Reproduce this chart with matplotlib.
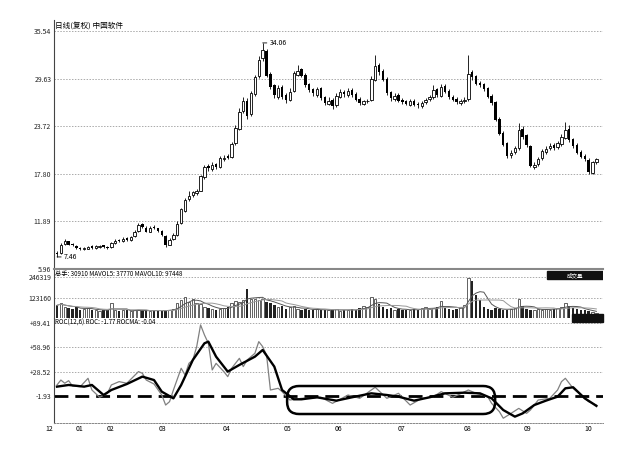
import numpy as np
import pandas as pd
import matplotlib
matplotlib.use('Agg')
import matplotlib.pyplot as plt
from matplotlib.patches import FancyBboxPatch, Rectangle

plt.rcParams['font.family'] = ['Noto Sans CJK SC', 'DejaVu Sans']

# 日线数据(复权) 中国软件
opens = [8.0, 7.9, 9.1, 9.4, 9.1, 8.8, 8.6, 8.4, 8.5, 8.8,
         8.6, 8.7, 8.9, 8.7, 8.7, 9.2, 9.6, 9.4, 9.8, 9.6,
         10.0, 10.7, 11.5, 11.1, 10.6, 11.2, 11.0, 10.7, 10.1, 9.0,
         9.7, 10.2, 11.7, 13.2, 14.6, 15.2, 15.4, 15.7, 17.4, 18.8,
         18.4, 19.0, 18.7, 19.6, 20.0, 19.9, 21.6, 23.4, 25.6, 26.9,
         25.2, 27.7, 30.0, 32.2, 33.0, 30.2, 28.8, 27.4, 28.6, 27.6,
         27.0, 28.1, 30.1, 30.8, 30.1, 28.9, 28.3, 27.6, 28.4, 27.3,
         26.5, 27.0, 26.3, 27.4, 28.0, 27.6, 28.2, 27.7, 27.1, 26.5,
         26.8, 27.0, 29.5, 31.3, 30.6, 29.6, 27.9, 27.1, 27.6, 27.0,
         26.8, 26.4, 26.9, 26.5, 26.2, 26.7, 27.1, 27.3, 28.3, 27.5,
         28.7, 28.1, 27.4, 27.1, 26.6, 26.8, 27.1, 30.4, 29.9, 29.1,
         28.9, 28.4, 27.5, 26.7, 24.6, 22.9, 21.6, 20.1, 20.5, 21.0,
         23.4, 22.6, 21.2, 18.7, 19.0, 19.7, 20.5, 21.0, 21.4, 21.1,
         21.5, 22.3, 23.4, 22.1, 21.4, 20.5, 20.0, 19.5, 17.9, 19.2]
highs = [8.2, 9.2, 9.7, 9.5, 9.2, 8.9, 8.7, 8.7, 8.8, 8.9,
         8.9, 8.9, 9.0, 8.8, 9.3, 9.7, 9.7, 9.9, 9.9, 10.1,
         10.8, 11.7, 11.7, 11.3, 11.3, 11.4, 11.1, 10.8, 10.2, 9.8,
         10.4, 11.9, 13.6, 14.8, 15.6, 15.7, 15.9, 17.7, 18.9, 19.0,
         19.2, 19.1, 20.0, 20.1, 20.3, 21.8, 23.8, 26.0, 27.3, 27.2,
         28.1, 30.1, 32.4, 34.06, 33.3, 30.5, 29.0, 28.8, 28.8, 27.8,
         28.4, 30.6, 31.3, 31.0, 30.3, 29.1, 28.5, 28.6, 28.6, 27.5,
         27.3, 27.2, 27.8, 28.3, 28.2, 28.4, 28.4, 27.9, 27.3, 27.0,
         27.1, 29.9, 32.6, 31.6, 30.8, 29.8, 28.1, 27.8, 27.8, 27.2,
         27.0, 27.1, 27.1, 26.7, 26.8, 27.2, 27.6, 28.8, 28.5, 28.9,
         28.9, 28.3, 27.6, 27.3, 27.1, 27.3, 32.6, 30.7, 30.1, 29.3,
         29.1, 28.6, 27.7, 26.9, 24.8, 23.1, 21.8, 20.8, 21.3, 24.1,
         23.7, 22.8, 21.4, 19.2, 19.9, 20.9, 21.2, 21.6, 21.6, 21.9,
         22.7, 24.2, 23.8, 22.3, 21.6, 20.7, 20.2, 19.7, 19.4, 19.8]
lows = [7.46, 7.8, 8.9, 8.9, 8.8, 8.5, 8.3, 8.3, 8.4, 8.5,
        8.5, 8.6, 8.6, 8.5, 8.6, 9.1, 9.3, 9.3, 9.5, 9.5,
        9.9, 10.6, 11.0, 10.5, 10.5, 10.9, 10.6, 10.0, 8.7, 8.9,
        9.6, 10.1, 11.5, 13.0, 14.4, 14.9, 15.2, 15.6, 17.2, 18.2,
        18.2, 18.4, 18.5, 19.4, 19.6, 19.8, 21.4, 23.2, 25.3, 24.6,
        25.0, 27.5, 29.7, 31.8, 29.8, 28.3, 27.2, 27.1, 27.1, 26.6,
        26.8, 27.9, 29.9, 29.8, 28.6, 27.9, 27.5, 27.4, 27.0, 26.3,
        26.3, 25.9, 26.1, 27.2, 27.4, 27.4, 27.3, 26.8, 26.4, 26.3,
        26.6, 26.8, 29.3, 30.1, 29.3, 27.6, 26.9, 26.9, 26.7, 26.5,
        26.3, 26.2, 26.2, 26.0, 26.0, 26.5, 26.9, 27.1, 27.4, 27.3,
        27.8, 27.1, 26.8, 26.5, 26.4, 26.6, 26.9, 29.5, 28.8, 28.6,
        28.1, 27.2, 26.4, 24.3, 22.6, 21.2, 19.8, 19.8, 20.3, 20.8,
        22.1, 21.1, 18.6, 18.4, 18.8, 19.5, 20.3, 20.8, 20.7, 20.9,
        21.3, 22.1, 21.8, 21.0, 20.2, 19.7, 19.4, 17.8, 17.8, 19.0]
closes = [7.8, 9.0, 9.5, 9.0, 8.9, 8.6, 8.4, 8.6, 8.7, 8.6,
          8.8, 8.8, 8.7, 8.6, 9.2, 9.5, 9.4, 9.7, 9.6, 9.9,
          10.6, 11.4, 11.2, 10.6, 11.1, 11.0, 10.7, 10.2, 9.0, 9.6,
          10.2, 11.6, 13.4, 14.5, 15.0, 15.5, 15.6, 17.5, 18.6, 18.5,
          18.9, 18.6, 19.7, 19.8, 19.8, 21.5, 23.5, 25.5, 26.8, 25.0,
          27.8, 29.8, 32.0, 33.2, 30.0, 28.6, 27.6, 28.4, 27.4, 27.0,
          28.0, 30.3, 30.6, 30.0, 28.8, 28.2, 27.8, 28.3, 27.2, 26.6,
          26.9, 26.2, 27.5, 27.9, 27.7, 28.1, 27.6, 27.0, 26.6, 26.8,
          26.9, 29.6, 31.2, 30.4, 29.5, 27.8, 27.2, 27.5, 26.9, 26.7,
          26.5, 26.9, 26.4, 26.3, 26.6, 27.0, 27.4, 28.2, 27.6, 28.6,
          28.0, 27.3, 27.0, 26.7, 26.9, 27.0, 30.2, 29.8, 29.0, 28.8,
          28.3, 27.4, 26.6, 24.5, 22.8, 21.4, 20.0, 20.4, 21.0, 23.2,
          22.4, 21.4, 18.8, 18.9, 19.6, 20.6, 20.9, 21.3, 21.0, 21.6,
          22.4, 23.2, 22.0, 21.2, 20.4, 19.9, 19.6, 18.0, 19.2, 19.6]
volumes = [80000, 95000, 70000, 65000, 60000, 70000, 55000, 60000, 65000, 55000,
           50000, 45000, 50000, 55000, 95000, 50000, 45000, 50000, 55000, 45000,
           50000, 55000, 45000, 50000, 45000, 50000, 55000, 45000, 50000, 55000,
           60000, 95000, 110000, 130000, 100000, 115000, 95000, 90000, 70000, 65000,
           60000, 55000, 60000, 65000, 70000, 95000, 105000, 100000, 110000, 175000,
           120000, 115000, 110000, 115000, 100000, 95000, 80000, 70000, 75000, 60000,
           70000, 75000, 60000, 55000, 60000, 50000, 55000, 60000, 50000, 55000,
           50000, 55000, 60000, 45000, 55000, 50000, 60000, 55000, 65000, 75000,
           70000, 130000, 115000, 90000, 70000, 60000, 65000, 55000, 60000, 50000,
           55000, 50000, 60000, 55000, 65000, 70000, 60000, 65000, 70000, 105000,
           65000, 60000, 55000, 60000, 70000, 85000, 240000, 225000, 140000, 110000,
           70000, 60000, 55000, 65000, 60000, 50000, 55000, 60000, 65000, 115000,
           75000, 60000, 55000, 50000, 60000, 55000, 60000, 55000, 60000, 65000,
           70000, 95000, 75000, 65000, 60000, 55000, 50000, 45000, 40000, 35000]

# ROC(12,6)
roc_idx = [0, 1, 2, 3, 4, 6, 8, 9, 11, 13, 14, 16, 18, 21, 22, 23, 25, 27, 28, 29,
           30, 32, 33, 34, 35, 36, 37, 38, 39, 40, 41, 43, 44, 45, 47, 48, 49, 51, 52, 53,
           54, 55, 57, 58, 60, 63, 65, 68, 71, 75, 78, 81, 82, 85, 88, 91, 94, 97, 99, 102,
           106, 108, 111, 112, 114, 115, 117, 119, 121, 122, 124, 127, 129, 130, 131, 133, 135, 137, 139]
roc_val = [11.8, 18.0, 14.0, 17.2, 10.5, 9.7, 20.2, 5.5, -3.7, 1.3, 11.8, 16.0, 14.0, 28.6, 26.5, 18.0, 13.0, -0.8, -13.4, -9.2,
           5.5, 32.8, 24.4, 39.0, 43.2, 60.0, 87.3, 74.7, 64.2, 30.7, 39.0, 28.6, 22.3, 32.8, 45.3, 34.9, 43.2, 51.6, 66.3, 60.0,
           49.5, 5.5, 7.6, 3.4, -7.1, -5.0, -5.0, -3.7, -11.3, -0.8, -5.0, 5.5, 8.9, -5.0, 1.3, -13.4, -5.0, -2.9, 3.4, -3.7,
           5.5, 1.3, -2.9, -11.3, -21.7, -30.0, -23.9, -17.6, -23.9, -19.7, -7.1, -5.0, 5.5, 16.0, 20.2, 7.6, -0.8, -9.2, -13.4]
rocma_idx = [0, 3, 7, 9, 12, 14, 18, 22, 25, 27, 30, 32, 35, 38, 39, 41, 44, 47, 51, 53,
             56, 58, 61, 63, 67, 72, 76, 81, 85, 88, 92, 96, 100, 105, 109, 112, 115, 118, 120, 123,
             126, 129, 131, 133, 136, 138, 139]
rocma_val = [9.7, 11.8, 9.7, 11.8, -0.8, 5.5, 13.0, 22.3, 18.0, 3.4, -5.0, 11.8, 43.2, 64.2, 66.3, 47.4, 28.6, 37.0, 47.4, 55.8,
             34.9, 5.5, -6.2, -6.2, -3.7, -7.9, -3.7, 1.3, -0.8, -2.9, -7.9, -3.7, 1.3, 2.1, 1.3, -5.0, -19.7, -28.0, -23.9, -13.4,
             -7.9, -2.9, 7.6, 8.9, -5.0, -11.3, -14.5]

# 月份 (K线序号)
months = ['12', '01', '02', '03', '04', '05', '06', '07', '08', '09', '10']
month_idx = [-2.1, 5.9, 13.7, 27.3, 43.8, 59.3, 72.4, 88.9, 105.9, 121.1, 136.9]

price_ticks = [5.96, 11.89, 17.80, 23.72, 29.63, 35.54]
vol_ticks = [123160, 246319]
roc_ticks = [-1.93, 28.52, 58.96, 89.41]

# 圈出的横盘区间
box_bars = (59.3, 112.9)
box_roc = (-24.7, 10.5)

o = np.array(opens)
h = np.array(highs)
l = np.array(lows)
c = np.array(closes)
v = np.array(volumes)
x = np.arange(len(c))
up = c >= o

fig = plt.figure(figsize=(6.4, 4.53), dpi=100)
left, width = 54 / 640, 549 / 640
ax1 = fig.add_axes([left, 184 / 453, width, 249 / 453])
ax2 = fig.add_axes([left, 135 / 453, width, 48 / 453])
ax3 = fig.add_axes([left, 30 / 453, width, 105 / 453])
xlim = (-0.77, 140.7)

for ax in (ax1, ax2, ax3):
    ax.set_xlim(*xlim)
    ax.set_xticks([])
    for s in ('top', 'right'):
        ax.spines[s].set_visible(False)
    ax.spines['left'].set_color('#444444')
    ax.spines['left'].set_linewidth(0.8)
    ax.tick_params(axis='y', length=0, labelsize=5, pad=2, colors='#222222')

grid_kw = dict(color='#aaaaaa', lw=0.7, ls=(0, (1.5, 1.5)), zorder=0)

# 价格 K线
ax1.set_ylim(5.96, 36.91)
ax1.set_yticks(price_ticks)
ax1.set_yticklabels(['%.2f' % t for t in price_ticks])
for t in price_ticks[1:]:
    ax1.axhline(t, **grid_kw)
ax1.spines['bottom'].set_color('#888888')
ax1.spines['bottom'].set_linewidth(1.5)
ax1.vlines(x, l, h, color='black', lw=0.6, zorder=2)
body = np.maximum(np.abs(c - o), 0.1)
bottom = np.minimum(o, c)
ax1.bar(x[up], body[up], bottom=bottom[up], width=0.62, facecolor='white',
        edgecolor='black', lw=0.6, zorder=3)
ax1.bar(x[~up], body[~up], bottom=bottom[~up], width=0.62, color='black', zorder=3)
ax1.text(0.002, 0.995, '日线(复权) 中国软件', transform=ax1.transAxes, fontsize=5.5,
         va='top', ha='left')
imax = int(np.argmax(h))
imin = int(np.argmin(l))
ax1.annotate('%.2f' % h[imax], xy=(imax, h[imax]), xytext=(5, 0), textcoords='offset points',
             fontsize=5, va='center', arrowprops=dict(arrowstyle='-', lw=0.6, shrinkA=0, shrinkB=0))
ax1.annotate('%.2f' % l[imin], xy=(imin, l[imin]), xytext=(5, 0), textcoords='offset points',
             fontsize=5, va='center', arrowprops=dict(arrowstyle='-', lw=0.6, shrinkA=0, shrinkB=0))

# 成交量
ax2.set_ylim(6000, 287000)
ax2.set_yticks(vol_ticks)
ax2.set_yticklabels([str(t) for t in vol_ticks])
for t in vol_ticks:
    ax2.axhline(t, **grid_kw)
ax2.spines['bottom'].set_visible(False)
ax2.bar(x[up], v[up], width=0.62, facecolor='white', edgecolor='#222222', lw=0.5, zorder=2)
ax2.bar(x[~up], v[~up], width=0.62, color='#222222', zorder=2)
vs = pd.Series(v, dtype=float)
ax2.plot(x, vs.rolling(5, min_periods=1).mean(), color='#555555', lw=0.7, zorder=3)
ax2.plot(x, vs.rolling(10, min_periods=1).mean(), color='#999999', lw=0.7, zorder=3)
ax2.text(0.002, 0.99, '总手: 30910 MAVOL5: 37770 MAVOL10: 97448', transform=ax2.transAxes,
         fontsize=4.5, va='top', ha='left')
ax2.add_patch(Rectangle((0.898, 0.81), 0.102, 0.17, transform=ax2.transAxes,
                        color='#111111', zorder=4))
ax2.text(0.949, 0.895, '成交量', transform=ax2.transAxes, fontsize=4, color='white',
         ha='center', va='center', zorder=5)

# ROC
ax3.set_ylim(-36, 96)
ax3.set_yticks(roc_ticks)
ax3.set_yticklabels(['%+.2f' % t for t in roc_ticks])
for t in roc_ticks[1:]:
    ax3.axhline(t, **grid_kw)
ax3.axhline(roc_ticks[0], color='black', lw=2, ls=(0, (5, 2.5)), zorder=2)
ax3.spines['bottom'].set_color('#888888')
ax3.spines['bottom'].set_linestyle((0, (1.5, 1.5)))
ax3.spines['bottom'].set_linewidth(0.7)
ax3.plot(roc_idx, roc_val, color='#808080', lw=0.9, zorder=3)
ax3.plot(rocma_idx, rocma_val, color='black', lw=1.7, zorder=4)
ax3.text(0.002, 0.995, 'ROC(12,6) ROC: -1.77 ROCMA: -0.04', transform=ax3.transAxes,
         fontsize=4.5, va='top', ha='left')
ax3.add_patch(Rectangle((0.9435, 0.965), 0.0565, 0.07, transform=ax3.transAxes,
                        color='#111111', zorder=4, clip_on=False))
for xi, m in zip(month_idx, months):
    ax3.text(xi, -0.015, m, transform=ax3.get_xaxis_transform(), fontsize=5,
             ha='center', va='top', clip_on=False)

# 圆角框
sx = ax3.transData.transform((1, 0))[0] - ax3.transData.transform((0, 0))[0]
sy = ax3.transData.transform((0, 1))[1] - ax3.transData.transform((0, 0))[1]
radius = 12 / sx
ax3.add_patch(FancyBboxPatch((box_bars[0], box_roc[0]), box_bars[1] - box_bars[0],
                             box_roc[1] - box_roc[0],
                             boxstyle='round,pad=0,rounding_size=%f' % radius,
                             mutation_aspect=sx / sy, fill=False, ec='black', lw=1.8, zorder=5))

fig.savefig('out.png', dpi=100)
